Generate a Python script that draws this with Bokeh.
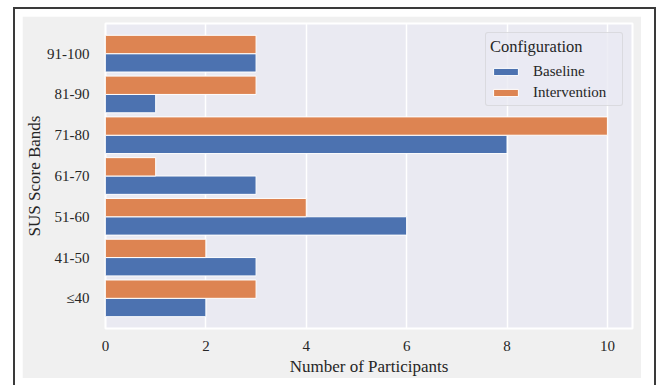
from bokeh.plotting import figure
from bokeh.models import ColumnDataSource, FixedTicker, Legend, LegendItem, Range1d
from bokeh.layouts import column
from bokeh.embed import file_html
from bokeh.resources import INLINE

bands = ["≤40", "41-50", "51-60", "61-70", "71-80", "81-90", "91-100"]
baseline = [2, 3, 6, 3, 8, 1, 3]
intervention = [3, 2, 4, 1, 10, 3, 3]
x_ticks = [0, 2, 4, 6, 8, 10]

FONT = "'Liberation Serif'"
BLUE = "#4c72b0"
ORANGE = "#dd8452"
bar_h = 0.45

idx = list(range(len(bands)))
src_b = ColumnDataSource(dict(y=[i - bar_h / 2 for i in idx], v=baseline))
src_i = ColumnDataSource(dict(y=[i + bar_h / 2 for i in idx], v=intervention))

p = figure(width=619, height=362, output_backend="svg", toolbar_location=None,
           x_range=Range1d(0, 10.5), y_range=Range1d(-0.74, 6.74),
           min_border_left=82, min_border_right=9, min_border_top=7, min_border_bottom=49,
           background_fill_color="#eaeaf2", border_fill_color="#f0f0f0",
           outline_line_color="white", outline_line_width=2)

rb = p.hbar(y="y", right="v", left=0, height=bar_h, source=src_b,
            fill_color=BLUE, line_color="white", line_width=1)
ri = p.hbar(y="y", right="v", left=0, height=bar_h, source=src_i,
            fill_color=ORANGE, line_color="white", line_width=1)

p.xgrid.grid_line_color = "white"
p.xgrid.grid_line_width = 1.5
p.ygrid.grid_line_color = None
p.xaxis.ticker = FixedTicker(ticks=x_ticks)
p.yaxis.ticker = FixedTicker(ticks=idx)
p.yaxis.major_label_overrides = {i: b for i, b in enumerate(bands)}

for ax in (p.xaxis[0], p.yaxis[0]):
    ax.axis_line_color = None
    ax.major_tick_line_color = None
    ax.minor_tick_line_color = None
    ax.major_tick_out = 0
    ax.major_tick_in = 0
    ax.major_label_text_font = FONT
    ax.major_label_text_font_size = "15px"
    ax.major_label_text_color = "#262626"
    ax.axis_label_text_font = FONT
    ax.axis_label_text_font_size = "17px"
    ax.axis_label_text_font_style = "normal"
    ax.axis_label_text_color = "#262626"

p.xaxis.axis_label = "Number of Participants"
p.yaxis.axis_label = "SUS Score Bands"
p.xaxis.major_label_standoff = 12
p.yaxis.major_label_standoff = 16
p.xaxis.axis_label_standoff = 3
p.yaxis.axis_label_standoff = 0

legend = Legend(items=[LegendItem(label="Baseline", renderers=[rb]),
                       LegendItem(label="Intervention", renderers=[ri])],
                location="top_right", title="Configuration",
                title_text_font=FONT, title_text_font_size="16.5px",
                title_text_font_style="normal", title_text_color="#262626",
                title_text_align="center",
                title_standoff=6,
                label_text_font=FONT, label_text_font_size="15px",
                label_text_color="#262626",
                glyph_width=31, glyph_height=9, label_height=16, spacing=4,
                label_standoff=12, label_width=85,
                padding=4, margin=9,
                background_fill_color="#eaeaf2", background_fill_alpha=0.8,
                border_line_color="#cccccc", border_line_width=1,
                border_radius=3)
p.add_layout(legend)

layout = column(p, styles={"border": "2px solid #3a3a3a", "margin-left": "13px",
                           "margin-top": "7px", "padding": "7px 13px 20px 7px",
                           "background-color": "white"})

open("out.html", "w").write(file_html(layout, INLINE))
